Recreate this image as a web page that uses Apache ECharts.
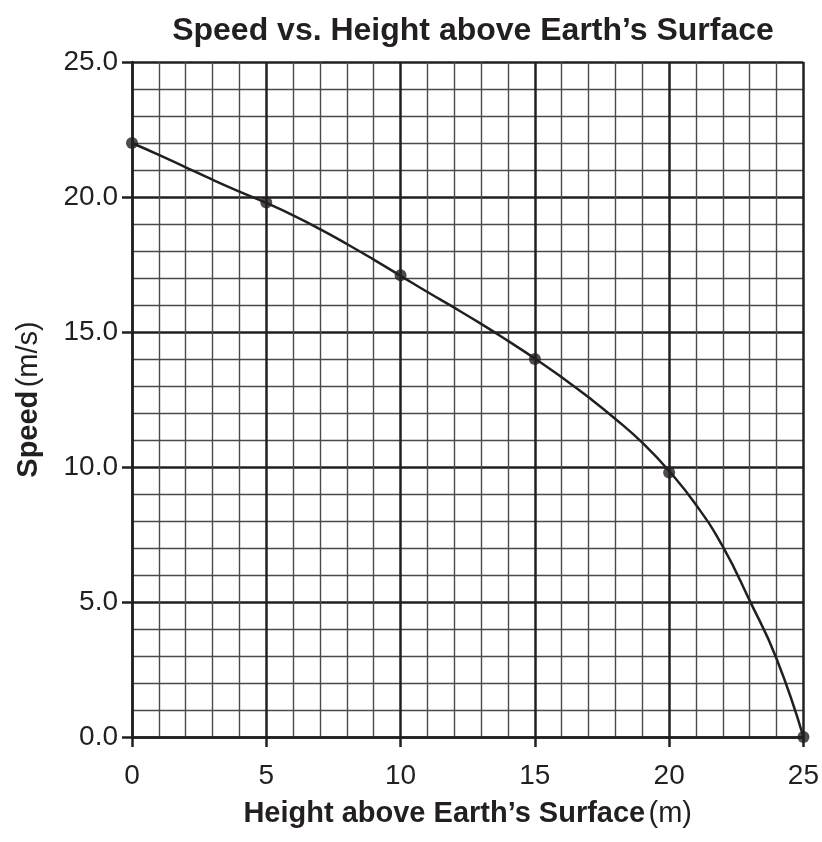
<!DOCTYPE html>
<html>
<head>
<meta charset="utf-8">
<script src="https://cdn.jsdelivr.net/npm/echarts@6/dist/echarts.min.js"></script>
<style>
html,body{margin:0;padding:0;background:#fff;}
#chart{width:822px;height:842px;}
</style>
</head>
<body>
<div id="chart"></div>
<script>
// Measured data points (height m, speed m/s)
const pointHeights = [0, 5, 10, 15, 20, 25];
const pointSpeeds = [22.0, 19.8, 17.1, 14.0, 9.8, 0.0];

// Drawn best-fit curve at each 1 m
const curveHeights = [0, 1, 2, 3, 4, 5, 6, 7, 8, 9, 10, 11, 12, 13, 14, 15, 16, 17, 18, 19, 20, 21, 22, 23, 24, 25];
const curveSpeeds = [22.0, 21.56, 21.1, 20.64, 20.2, 19.78, 19.32, 18.81, 18.26, 17.68, 17.08, 16.48, 15.9, 15.3, 14.67, 14.02, 13.32, 12.58, 11.78, 10.9, 9.85, 8.6, 7.05, 5.05, 2.9, 0.0];

const titleText = 'Speed vs. Height above Earth\u2019s Surface';
const xNameBold = 'Height above Earth\u2019s Surface';
const xNameUnit = '(m)';
const yNameBold = 'Speed';
const yNameUnit = '(m/s)';

const ink = '#231f20';
const font = '"Liberation Sans", Arial, Helvetica, sans-serif';

const chart = echarts.init(document.getElementById('chart'));
chart.setOption({
  animation: false,
  backgroundColor: '#fff',
  title: {
    text: titleText,
    left: 468,
    textAlign: 'center',
    top: 10,
    textStyle: { fontFamily: font, fontWeight: 'bold', fontSize: 32, color: ink }
  },
  grid: { left: 132, right: 17, top: 62, bottom: 105, containLabel: false },
  xAxis: {
    type: 'value', min: 0, max: 25, interval: 5,
    name: '{b|' + xNameBold + '} {n|' + xNameUnit + '}',
    nameLocation: 'middle', nameGap: 62,
    nameTextStyle: {
      rich: {
        b: { fontFamily: font, fontWeight: 'bold', fontSize: 29, color: ink },
        n: { fontFamily: font, fontSize: 29, color: ink }
      }
    },
    axisLine: { show: true, onZero: false, lineStyle: { color: ink, width: 2.5 } },
    axisTick: { show: true, length: 10, inside: false, lineStyle: { color: ink, width: 2.5 } },
    axisLabel: { fontFamily: font, fontSize: 28, color: ink, margin: 25 },
    splitLine: { show: true, lineStyle: { color: ink, width: 2.5 } },
    minorTick: { show: false, splitNumber: 5 },
    minorSplitLine: { show: true, lineStyle: { color: '#4a4a4a', width: 1.4 } }
  },
  yAxis: {
    type: 'value', min: 0, max: 25, interval: 5,
    name: '{b|' + yNameBold + '} {n|' + yNameUnit + '}',
    nameLocation: 'middle', nameGap: 89, nameRotate: 90,
    nameTextStyle: {
      rich: {
        b: { fontFamily: font, fontWeight: 'bold', fontSize: 29, color: ink },
        n: { fontFamily: font, fontSize: 29, color: ink }
      }
    },
    axisLine: { show: true, onZero: false, lineStyle: { color: ink, width: 2.5 } },
    axisTick: { show: true, length: 10, inside: false, lineStyle: { color: ink, width: 2.5 } },
    axisLabel: { fontFamily: font, fontSize: 28, color: ink, margin: 14,
      formatter: v => v.toFixed(1) },
    splitLine: { show: true, lineStyle: { color: ink, width: 2.5 } },
    minorTick: { show: false, splitNumber: 5 },
    minorSplitLine: { show: true, lineStyle: { color: '#4a4a4a', width: 1.4 } }
  },
  series: [
    {
      type: 'line',
      data: curveHeights.map((h, i) => [h, curveSpeeds[i]]),
      smooth: 0.5,
      showSymbol: false, symbol: 'none',
      lineStyle: { color: ink, width: 2.5 },
      z: 3
    },
    {
      type: 'scatter',
      data: pointHeights.map((h, i) => [h, pointSpeeds[i]]),
      symbol: 'circle', symbolSize: 12,
      itemStyle: { color: ink },
      clip: false,
      z: 4
    }
  ]
});
</script>
</body>
</html>
